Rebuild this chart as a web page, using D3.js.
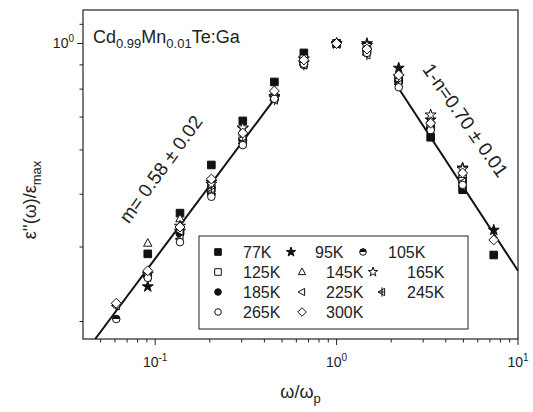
<!DOCTYPE html>
<html>
<head>
<meta charset="utf-8">
<script src="https://cdn.jsdelivr.net/npm/d3@7"></script>
<style>
  body { margin: 0; background: #fff; }
  svg { display: block; font-family: "Liberation Sans", Arial, sans-serif; }
</style>
</head>
<body>
<svg id="chart" width="533" height="412"></svg>
<script>
// omega / omega_p columns
var omega = [0.061, 0.091, 0.137, 0.204, 0.304, 0.454, 0.66, 1.0, 1.47, 2.2, 3.3, 4.95, 7.35];

// eps''/eps_max for each temperature, null = no point
var e77K  = [null,  0.318, 0.397, 0.516, 0.656, 0.811, 0.950, 1.0, 0.960, 0.830, 0.600, 0.451, 0.316];
var e95K  = [null,  0.266, 0.360, 0.470, 0.630, 0.745, 0.920, 1.0, 1.000, 0.875, 0.660, 0.508, 0.362];
var e105K = [0.223, 0.280, 0.355, 0.440, 0.580, 0.740, 0.890, 1.0, 0.950, 0.810, 0.630, 0.470, null];
var e125K = [null,  0.285, 0.360, 0.455, 0.600, 0.745, 0.920, 1.0, 0.975, 0.820, 0.640, 0.480, null];
var e145K = [null,  0.337, 0.385, 0.463, 0.600, 0.750, 0.905, 1.0, 0.985, 0.830, 0.660, 0.490, null];
var e165K = [null,  0.285, 0.370, 0.465, 0.632, 0.750, 0.900, 1.0, 0.990, 0.835, 0.678, 0.505, null];
var e185K = [null,  0.282, 0.356, 0.440, 0.585, 0.740, 0.900, 1.0, 0.960, 0.815, 0.630, 0.465, null];
var e225K = [0.240, 0.285, 0.360, 0.450, 0.595, 0.745, 0.900, 1.0, 0.960, 0.820, 0.635, 0.470, null];
var e245K = [0.240, 0.280, 0.345, 0.445, 0.580, 0.735, 0.889, 1.0, 0.940, 0.800, 0.625, 0.460, null];
var e265K = [0.241, 0.279, 0.339, 0.434, 0.575, 0.740, 0.895, 1.0, 0.950, 0.788, 0.624, 0.463, null];
var e300K = [0.243, 0.290, 0.368, 0.478, 0.614, 0.772, 0.914, 1.0, 0.970, 0.842, 0.648, 0.494, 0.343];

var temps  = ["77K", "95K", "105K", "125K", "145K", "165K", "185K", "225K", "245K", "265K", "300K"];
var shapes = ["squareFill", "starFill", "halfCircle", "square", "triUp", "star", "circleFill", "triLeft", "triLeftCross", "circle", "diamond"];
var values = [e77K, e95K, e105K, e125K, e145K, e165K, e185K, e225K, e245K, e265K, e300K];

// power-law fits, end points
var fitLeftX  = [0.0467, 0.466], fitLeftY  = [0.20, 0.75];
var fitRightX = [2.17, 10],      fitRightY = [0.79, 0.29];

// axis ticks
var xMajor = [0.1, 1, 10], xMajorExp = ["-1", "0", "1"];
var xMinor = [0.05, 0.06, 0.07, 0.08, 0.09, 0.2, 0.3, 0.4, 0.5, 0.6, 0.7, 0.8, 0.9,
              2, 3, 4, 5, 6, 7, 8, 9];
var yMinor = [1.11, 0.89, 0.78, 0.67, 0.56, 0.44, 0.33, 0.22];

var svg = d3.select("#chart");
var pl = 83, pr = 518, pt = 10, pb = 339;

var x = d3.scaleLog().domain([0.04, 10]).range([pl, pr]);
var y = d3.scaleLog().domain([0.2, 1.2]).range([pb, pt]);

// marker paths
function markerPath(type, r) {
  var p = d3.path();
  if (type === "squareFill" || type === "square") {
    p.rect(-r, -r, 2 * r, 2 * r);
  } else if (type === "circleFill" || type === "circle" || type === "halfCircle") {
    p.arc(0, 0, r, 0, 2 * Math.PI); p.closePath();
  } else if (type === "triUp") {
    p.moveTo(0, -r * 1.2); p.lineTo(r * 1.1, r * 0.8); p.lineTo(-r * 1.1, r * 0.8); p.closePath();
  } else if (type === "triLeft" || type === "triLeftCross") {
    p.moveTo(-r * 1.2, 0); p.lineTo(r * 0.8, -r * 1.1); p.lineTo(r * 0.8, r * 1.1); p.closePath();
  } else if (type === "diamond") {
    p.moveTo(0, -r * 1.3); p.lineTo(r * 1.3, 0); p.lineTo(0, r * 1.3); p.lineTo(-r * 1.3, 0); p.closePath();
  } else {
    return d3.symbol(d3.symbolStar, r * r * 2.6)();
  }
  return p.toString();
}

function drawMarker(g, type, r) {
  var filled = (type === "squareFill" || type === "starFill" || type === "circleFill");
  g.append("path")
    .attr("d", markerPath(type, r))
    .attr("fill", filled ? "#111" : "#fff")
    .attr("stroke", "#111")
    .attr("stroke-width", 1);
  if (type === "halfCircle") {
    var h = d3.path();
    h.arc(0, 0, r, Math.PI, 2 * Math.PI); h.closePath();
    g.append("path").attr("d", h.toString()).attr("fill", "#111");
  }
  if (type === "triLeftCross") {
    g.append("path")
      .attr("d", "M0," + (-r * 1.4) + "V" + (r * 1.4) + "M" + (-r * 1.2) + ",0H" + (r * 0.8))
      .attr("stroke", "#111").attr("stroke-width", 1);
  }
}

// frame
svg.append("rect")
  .attr("x", pl).attr("y", pt)
  .attr("width", pr - pl).attr("height", pb - pt)
  .attr("fill", "none").attr("stroke", "#222").attr("stroke-width", 1.2);

// x ticks
var xt = svg.append("g").attr("stroke", "#222").attr("stroke-width", 1);
xMinor.forEach(function(v) {
  xt.append("line").attr("x1", x(v)).attr("x2", x(v)).attr("y1", pb).attr("y2", pb + 3.5);
});
xMajor.forEach(function(v) {
  xt.append("line").attr("x1", x(v)).attr("x2", x(v)).attr("y1", pb).attr("y2", pb + 6);
});
xMajor.forEach(function(v, i) {
  var t = svg.append("text")
    .attr("x", x(v)).attr("y", pb + 28)
    .attr("text-anchor", "middle")
    .attr("font-size", 14).attr("fill", "#222");
  t.append("tspan").text("10");
  t.append("tspan").attr("dy", -6).attr("font-size", 10).text(xMajorExp[i]);
});

// y ticks
var yt = svg.append("g").attr("stroke", "#222").attr("stroke-width", 1);
yMinor.forEach(function(v) {
  yt.append("line").attr("x1", pl - 3.5).attr("x2", pl).attr("y1", y(v)).attr("y2", y(v));
});
yt.append("line").attr("x1", pl - 6).attr("x2", pl).attr("y1", y(1)).attr("y2", y(1));
var yl = svg.append("text")
  .attr("x", pl - 9).attr("y", y(1) + 5)
  .attr("text-anchor", "end")
  .attr("font-size", 14).attr("fill", "#222");
yl.append("tspan").text("10");
yl.append("tspan").attr("dy", -6).attr("font-size", 10).text("0");

// axis titles
var xl = svg.append("text")
  .attr("x", (pl + pr) / 2).attr("y", 398)
  .attr("text-anchor", "middle")
  .attr("font-size", 18).attr("fill", "#222");
xl.append("tspan").text("\u03c9/\u03c9");
xl.append("tspan").attr("dy", 5).attr("font-size", 13).text("p");

var ylab = svg.append("text")
  .attr("transform", "translate(36,200) rotate(-90)")
  .attr("text-anchor", "middle")
  .attr("font-size", 18).attr("fill", "#222");
ylab.append("tspan").text("\u03b5''(\u03c9)/\u03b5");
ylab.append("tspan").attr("dy", 5).attr("font-size", 13).text("max");

// sample label
var title = svg.append("text")
  .attr("x", 93).attr("y", 43)
  .attr("font-size", 18).attr("fill", "#222");
title.append("tspan").text("Cd");
title.append("tspan").attr("dy", 5).attr("font-size", 13).text("0.99");
title.append("tspan").attr("dy", -5).text("Mn");
title.append("tspan").attr("dy", 5).attr("font-size", 13).text("0.01");
title.append("tspan").attr("dy", -5).text("Te:Ga");

// fit lines
var line = d3.line().x(function(d) { return x(d[0]); }).y(function(d) { return y(d[1]); });
[[fitLeftX, fitLeftY], [fitRightX, fitRightY]].forEach(function(f) {
  svg.append("path")
    .attr("d", line(d3.zip(f[0], f[1])))
    .attr("fill", "none").attr("stroke", "#111").attr("stroke-width", 2);
});

// fit annotations
svg.append("text")
  .attr("transform", "translate(166,173) rotate(-54)")
  .attr("text-anchor", "middle")
  .attr("font-size", 19).attr("fill", "#222")
  .text("m= 0.58 \u00b1 0.02");
svg.append("text")
  .attr("transform", "translate(460,124) rotate(55)")
  .attr("text-anchor", "middle")
  .attr("font-size", 19).attr("fill", "#222")
  .text("1-n=0.70 \u00b1 0.01");

// data points
var pts = svg.append("g");
temps.forEach(function(t, si) {
  values[si].forEach(function(v, i) {
    if (v === null) return;
    var g = pts.append("g").attr("transform", "translate(" + x(omega[i]) + "," + y(v) + ")");
    drawMarker(g, shapes[si], 3.8);
  });
});

// legend
var legX = [[218, 291, 363], [218, 302, 373], [218, 302, 382], [218, 302]];
var legTX = [[243, 315, 388], [243, 326, 407], [243, 326, 407], [243, 326]];
var legY = [252, 272, 292, 312];
svg.append("rect")
  .attr("x", 199).attr("y", 236).attr("width", 269).attr("height", 93)
  .attr("fill", "#fff").attr("stroke", "#222").attr("stroke-width", 1);
temps.forEach(function(t, i) {
  var row = Math.floor(i / 3), col = i % 3;
  var g = svg.append("g").attr("transform", "translate(" + legX[row][col] + "," + legY[row] + ")");
  drawMarker(g, shapes[i], 3.3);
  svg.append("text")
    .attr("x", legTX[row][col]).attr("y", legY[row] + 6)
    .attr("font-size", 16).attr("fill", "#222")
    .text(t);
});
</script>
</body>
</html>
